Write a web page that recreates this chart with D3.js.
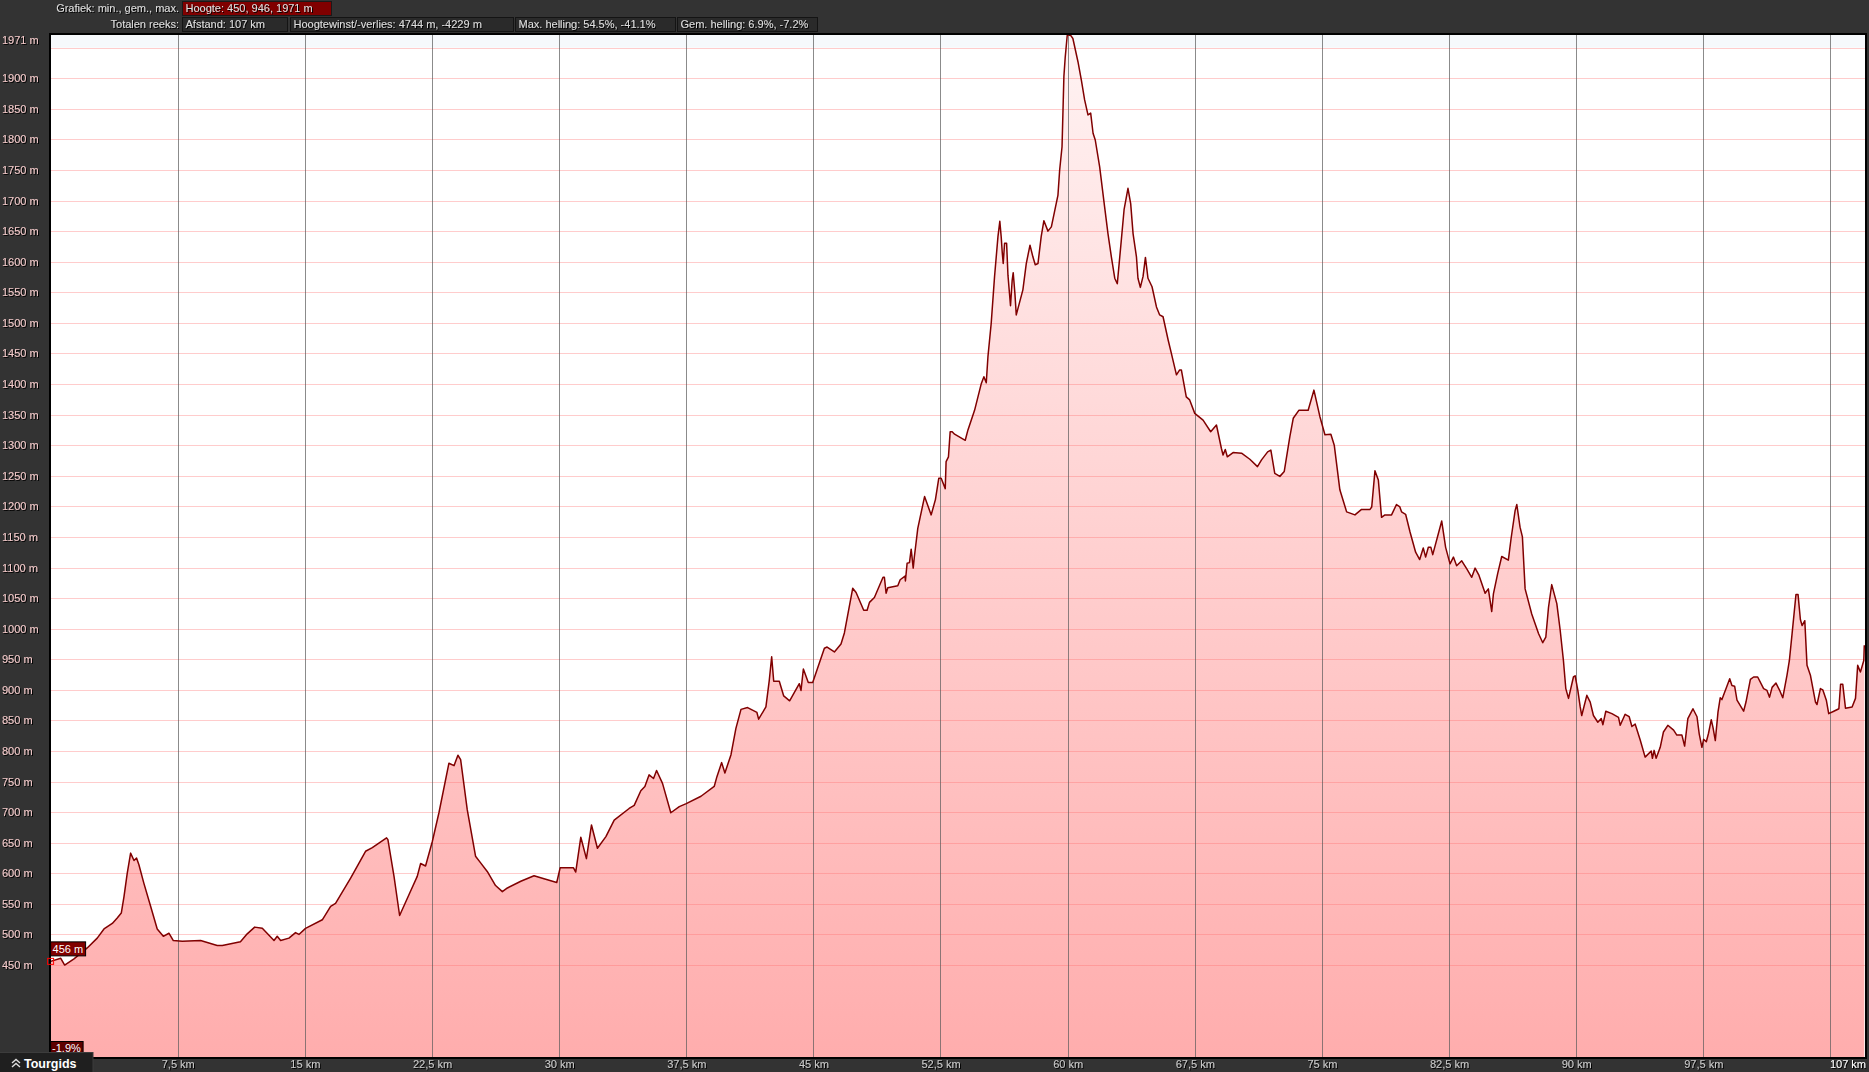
<!DOCTYPE html>
<html><head><meta charset="utf-8">
<script src="https://cdn.jsdelivr.net/npm/d3@7"></script>
<style>
html,body{margin:0;padding:0;background:#333;overflow:hidden}
svg{display:block;font-family:"Liberation Sans",Arial,sans-serif}
</style></head><body>
<script>
// ---- data ----
const distanceKm = [
0,0.6,0.83,1.38,2.16,2.75,3.15,3.64,3.93,4.17,4.33,4.52,4.72,4.92,5.07,5.21,5.5,5.9,6.29,6.65,6.98,7.24,7.77,8.85,9.83,10.13,11.2,11.6,12.04,12.49,13.18,13.37,13.57,14.06,14.45,14.65,15.04,16.03,16.52,16.81,17.7,18.58,18.98,19.82,19.9,20.26,20.59,21.14,21.63,21.83,22.12,22.52,22.91,23.5,23.8,24.03,24.19,24.58,25.07,25.37,25.76,26.25,26.65,
26.95,27.74,28.52,29.11,29.86,30.06,30.85,30.98,31.28,31.61,31.91,32.26,32.76,33.25,34.13,34.43,34.82,35.06,35.31,35.57,35.75,36.1,36.59,37.09,37.5,38.37,39.15,39.31,39.59,39.78,40.14,40.43,40.73,41.12,41.67,41.77,42.2,42.4,42.54,42.66,42.99,43.25,43.6,44.17,44.27,44.41,44.7,44.96,45.65,45.81,46.24,46.63,46.83,47.32,47.52,47.97,48.17,48.31,48.6,49.11,49.19,49.29,49.39,49.98,50.12,50.41,50.43,50.53,50.67,50.77,50.89,50.96,51.16,51.56,51.95,52.2,52.4,52.54,
52.78,52.83,52.97,53.07,53.19,53.33,53.96,54.12,54.51,54.91,55.06,55.2,55.3,55.49,55.69,55.89,56.0,56.08,56.14,56.2,56.28,56.4,56.48,56.57,56.63,56.73,56.79,56.89,56.97,57.36,57.56,57.78,57.95,58.09,58.25,58.44,58.6,58.84,59.04,59.43,59.53,59.67,59.78,59.86,59.98,60.18,60.31,60.61,60.81,61.0,61.2,61.36,61.5,61.63,61.89,62.18,62.38,62.58,62.78,62.93,63.17,63.33,63.56,63.72,63.86,64.06,64.15,64.29,64.45,64.59,64.74,64.98,65.24,65.43,65.63,65.93,66.12,66.42,66.61,66.71,67.0,67.2,67.5,67.99,68.44,68.78,69.07,69.17,69.3,69.42,69.76,70.26,70.75,71.2,71.44,71.8,71.99,72.22,72.52,72.78,73.11,73.31,73.64,74.19,74.53,74.88,75.18,75.53,75.73,76.06,76.46,76.95,77.34,77.84,77.94,78.13,78.33,78.52,78.72,79.11,
79.4,79.6,79.7,79.94,80.2,80.53,80.77,80.98,81.12,81.28,81.43,81.54,82.07,82.3,82.56,82.76,82.95,83.25,83.54,83.84,84.04,84.27,84.63,84.82,85.02,85.12,85.37,85.61,86.0,86.16,86.4,86.5,86.69,86.83,86.99,87.38,87.78,88.03,88.21,88.37,88.56,88.86,89.06,89.25,89.39,89.55,89.84,89.94,90.1,90.24,90.33,90.63,90.83,91.02,91.28,91.48,91.58,91.75,92.11,92.5,92.6,92.89,93.13,93.29,93.48,93.78,94.07,94.43,94.5,94.6,94.72,94.96,95.15,95.41,95.75,95.94,96.24,96.4,96.59,96.89,97.13,97.26,97.42,97.52,97.68,97.81,97.97,98.07,98.21,98.37,98.5,98.6,99.06,99.19,99.35,99.49,99.88,100.02,100.28,100.47,100.71,101.06,101.26,101.41,101.56,101.79,101.99,102.19,102.44,102.58,102.74,102.97,103.09,103.23,103.33,103.49,103.62,103.82,104.12,104.21,104.41,104.55,104.76,104.9,105.2,105.5,105.6,105.73,105.89,106.28,106.48,106.61,106.77,106.97,107.0
];
const elevationM = [
456,461,450,460,478,494,509,518,527,535,562,600,633,621,625,614,584,546,509,497,502,490,489,490,482,482,488,501,512,510,490,497,490,494,503,500,510,524,546,551,592,636,642,658,655,595,531,565,595,616,612,652,699,780,776,793,786,704,628,617,603,580,570,
576,587,596,591,585,609,609,602,659,624,679,641,660,687,706,711,735,742,761,755,768,747,699,709,714,726,742,758,781,764,794,837,868,871,863,852,872,916,954,914,914,890,882,910,899,934,912,912,968,970,962,975,993,1066,1059,1030,1030,1043,1051,1084,1084,1058,1067,1070,1080,1086,1078,1107,1108,1130,1099,1118,1164,1216,1186,1211,1246,1246,
1229,1273,1281,1322,1322,1318,1308,1325,1357,1401,1412,1402,1445,1499,1576,1641,1666,1641,1616,1597,1630,1630,1578,1548,1528,1570,1582,1548,1513,1554,1597,1627,1608,1595,1597,1641,1667,1650,1657,1709,1750,1788,1903,1935,1971,1970,1965,1927,1897,1865,1840,1843,1810,1799,1755,1690,1646,1608,1573,1564,1636,1685,1720,1695,1646,1608,1573,1558,1576,1607,1573,1559,1526,1513,1510,1472,1450,1415,1423,1423,1379,1374,1352,1341,1322,1333,1295,1284,1293,1281,1288,1287,1277,1265,1276,1289,1292,1254,1249,1257,1314,1344,1357,1357,1390,1347,1317,1318,1300,1227,1191,1186,1195,1195,1199,1258,1243,1182,1186,1186,
1203,1199,1191,1187,1158,1125,1113,1132,1117,1133,1133,1121,1176,1133,1106,1117,1103,1111,1098,1084,1099,1087,1058,1065,1028,1057,1090,1118,1112,1147,1193,1203,1166,1150,1065,1024,992,977,986,1035,1072,1041,997,948,902,886,921,923,899,872,858,891,880,858,847,853,843,865,861,855,842,860,856,840,844,818,790,800,788,801,788,806,831,842,834,826,826,808,853,869,856,828,806,819,815,829,851,839,817,864,887,884,918,907,906,883,865,880,917,921,921,902,899,888,904,911,900,887,924,948,992,1056,1056,1015,1005,1013,940,924,880,876,902,900,883,861,865,869,909,909,870,872,886,940,929,948,973
];
const gridElevations = [450,500,550,600,650,700,750,800,850,900,950,1000,1050,1100,1150,1200,1250,1300,1350,1400,1450,1500,1550,1600,1650,1700,1750,1800,1850,1900,1950];
const elevationLabels = [450,500,550,600,650,700,750,800,850,900,950,1000,1050,1100,1150,1200,1250,1300,1350,1400,1450,1500,1550,1600,1650,1700,1750,1800,1850,1900];
const gridKm = [7.5,15,22.5,30,37.5,45,52.5,60,67.5,75,82.5,90,97.5,105];
const kmLabels = [7.5,15,22.5,30,37.5,45,52.5,60,67.5,75,82.5,90,97.5];
const maxElevation = 1971;
const totalKm = 107;
const startElevation = 456;
const startGrade = "-1.9%";
const headerRow1Title = "Grafiek: min., gem., max.";
const headerRow1Stats = ["Hoogte: 450, 946, 1971 m"];
const headerRow2Title = "Totalen reeks:";
const headerRow2Stats = ["Afstand: 107 km","Hoogtewinst/-verlies: 4744 m, -4229 m","Max. helling: 54.5%, -41.1%","Gem. helling: 6.9%, -7.2%"];

// ---- layout ----
const W = 1869, H = 1072;
const PL = 50, PR = 1866, PT = 34, PB = 1058;
const x = d3.scaleLinear().domain([0, totalKm]).range([50.6, 1864.3]);
const y = d3.scaleLinear().domain([298, 1971.5]).range([PB, 34.5]);
const pts = distanceKm.map((d, i) => [d, elevationM[i]]);

const svg = d3.select("body").append("svg").attr("width", W).attr("height", H);
const defs = svg.append("defs");
const g = defs.append("linearGradient").attr("id", "fillGrad")
  .attr("gradientUnits", "userSpaceOnUse").attr("x1", 0).attr("x2", 0).attr("y1", PT).attr("y2", PB);
g.append("stop").attr("offset", 0).attr("stop-color", "#fff3f3");
g.append("stop").attr("offset", 1).attr("stop-color", "#ffadad");
defs.append("filter").attr("id", "sh").attr("x", "-10%").attr("y", "-30%").attr("width", "130%").attr("height", "170%")
  .append("feDropShadow").attr("dx", 1).attr("dy", 1).attr("stdDeviation", 0.4)
  .attr("flood-color", "#000").attr("flood-opacity", 0.95);

svg.append("rect").attr("width", W).attr("height", H).attr("fill", "#333");
svg.append("rect").attr("x", PL).attr("y", PT).attr("width", PR - PL).attr("height", PB - PT).attr("fill", "#fff");
svg.append("rect").attr("x", PL).attr("y", PT).attr("width", PR - PL).attr("height", y(1950) - PT).attr("fill", "#f6f9fc");

// area + line
svg.append("path").datum(pts)
  .attr("d", d3.area().x(d => x(d[0])).y0(PB).y1(d => y(d[1])))
  .attr("fill", "url(#fillGrad)");

// horizontal gridlines
const hg = svg.append("g").attr("transform", `translate(${PL},0)`)
  .call(d3.axisRight(y).tickValues(gridElevations).tickSize(PR - PL).tickFormat(""));
hg.select(".domain").remove();
hg.selectAll("line").attr("stroke", "rgba(255,110,110,0.35)").attr("stroke-width", 1)
  .attr("shape-rendering", "crispEdges");

// vertical gridlines
const vg = svg.append("g").attr("transform", `translate(0,${PT})`)
  .call(d3.axisBottom(x).tickValues(gridKm).tickSize(PB - PT).tickFormat(""));
vg.select(".domain").remove();
vg.selectAll("line").attr("stroke", "rgba(90,90,90,0.7)").attr("stroke-width", 1)
  .attr("shape-rendering", "crispEdges");

svg.append("path").datum(pts)
  .attr("d", d3.line().x(d => x(d[0])).y(d => y(d[1])))
  .attr("fill", "none").attr("stroke", "#800000").attr("stroke-width", 1.5).attr("stroke-linejoin", "round");

// border
svg.append("rect").attr("x", PL).attr("y", PT).attr("width", PR - PL).attr("height", PB - PT)
  .attr("fill", "none").attr("stroke", "#000").attr("stroke-width", 2);

// y labels
const ya = svg.append("g").attr("transform", "translate(2,0)")
  .call(d3.axisRight(y).tickValues(elevationLabels).tickSize(0).tickPadding(0).tickFormat(d => d + " m"));
ya.select(".domain").remove();
ya.selectAll("text").attr("font-size", 11).attr("fill", "#f3caca").attr("font-family", "Liberation Sans, Arial")
  .attr("filter", "url(#sh)");
svg.append("text").attr("x", 2).attr("y", y(maxElevation) + 6).attr("dy", "0.32em")
  .attr("font-size", 11).attr("fill", "#f3caca").attr("filter", "url(#sh)").text(maxElevation + " m");

// x labels
const xa = svg.append("g").attr("transform", `translate(0,${PB})`)
  .call(d3.axisBottom(x).tickValues(kmLabels).tickSize(0).tickPadding(2.5)
    .tickFormat(d => String(d).replace(".", ",") + " km"));
xa.select(".domain").remove();
xa.selectAll("text").attr("font-size", 11).attr("fill", "#c8c8c8").attr("font-family", "Liberation Sans, Arial")
  .attr("filter", "url(#sh)");
svg.append("text").attr("x", PR).attr("y", PB + 2.5).attr("dy", "0.71em").attr("text-anchor", "end")
  .attr("font-size", 11).attr("fill", "#fff").attr("filter", "url(#sh)").text(totalKm + " km");

// start marker and labels
const sx = x(distanceKm[0]), sy = y(elevationM[0]);
svg.append("rect").attr("x", sx - 3).attr("y", sy - 3).attr("width", 6).attr("height", 6)
  .attr("fill", "none").attr("stroke", "#ff0000").attr("stroke-width", 1);
svg.append("rect").attr("x", sx).attr("y", sy - 19.5).attr("width", 35).attr("height", 14)
  .attr("fill", "#800000").attr("stroke", "#000").attr("stroke-width", 1);
svg.append("text").attr("x", sx + 2).attr("y", sy - 12.5).attr("dy", "0.35em").attr("font-size", 11)
  .attr("fill", "#fff").text(startElevation + " m");
svg.append("rect").attr("x", sx).attr("y", 1041.5).attr("width", 32.5).attr("height", 14)
  .attr("fill", "#5e0000").attr("stroke", "#000").attr("stroke-width", 1);
svg.append("text").attr("x", sx + 1.5).attr("y", 1048.5).attr("dy", "0.35em").attr("font-size", 11)
  .attr("fill", "#fff").text(startGrade);

// Tourgids tab
svg.append("rect").attr("x", -1).attr("y", 1052.5).attr("width", 94).attr("height", 21)
  .attr("fill", "#1f1f1f").attr("stroke", "#3c3c3c").attr("stroke-width", 1);
svg.append("path").attr("d", "M12,1063 L16,1059.5 L20,1063 M12,1067 L16,1063.5 L20,1067")
  .attr("fill", "none").attr("stroke", "#ddd").attr("stroke-width", 1.4);
svg.append("text").attr("x", 24).attr("y", 1063).attr("dy", "0.36em").attr("font-size", 12.5)
  .attr("font-weight", "bold").attr("fill", "#fff").text("Tourgids");

// header
const hdrText = (t, xx, yy, anchor) => svg.append("text").attr("x", xx).attr("y", yy).attr("dy", "0.35em")
  .attr("text-anchor", anchor).attr("font-size", 11).attr("fill", "#dcdcdc").attr("filter", "url(#sh)").text(t);
hdrText(headerRow1Title, 179, 8.5, "end");
hdrText(headerRow2Title, 179, 24.5, "end");
const row1Boxes = [[182, 331]];
headerRow1Stats.forEach((t, i) => {
  svg.append("rect").attr("x", row1Boxes[i][0] + 0.5).attr("y", 1.5).attr("width", row1Boxes[i][1] - row1Boxes[i][0]).attr("height", 14)
    .attr("fill", "#800000").attr("stroke", "#1a1a1a").attr("stroke-width", 1);
  hdrText(t, row1Boxes[i][0] + 3.5, 8.5, "start");
});
const row2Boxes = [[182, 287], [290, 513], [515, 675], [677, 817]];
headerRow2Stats.forEach((t, i) => {
  svg.append("rect").attr("x", row2Boxes[i][0] + 0.5).attr("y", 17.5).attr("width", row2Boxes[i][1] - row2Boxes[i][0]).attr("height", 14)
    .attr("fill", "#2a2a2a").attr("stroke", "#141414").attr("stroke-width", 1);
  hdrText(t, row2Boxes[i][0] + 3.5, 24.5, "start");
});
</script>
</body></html>
